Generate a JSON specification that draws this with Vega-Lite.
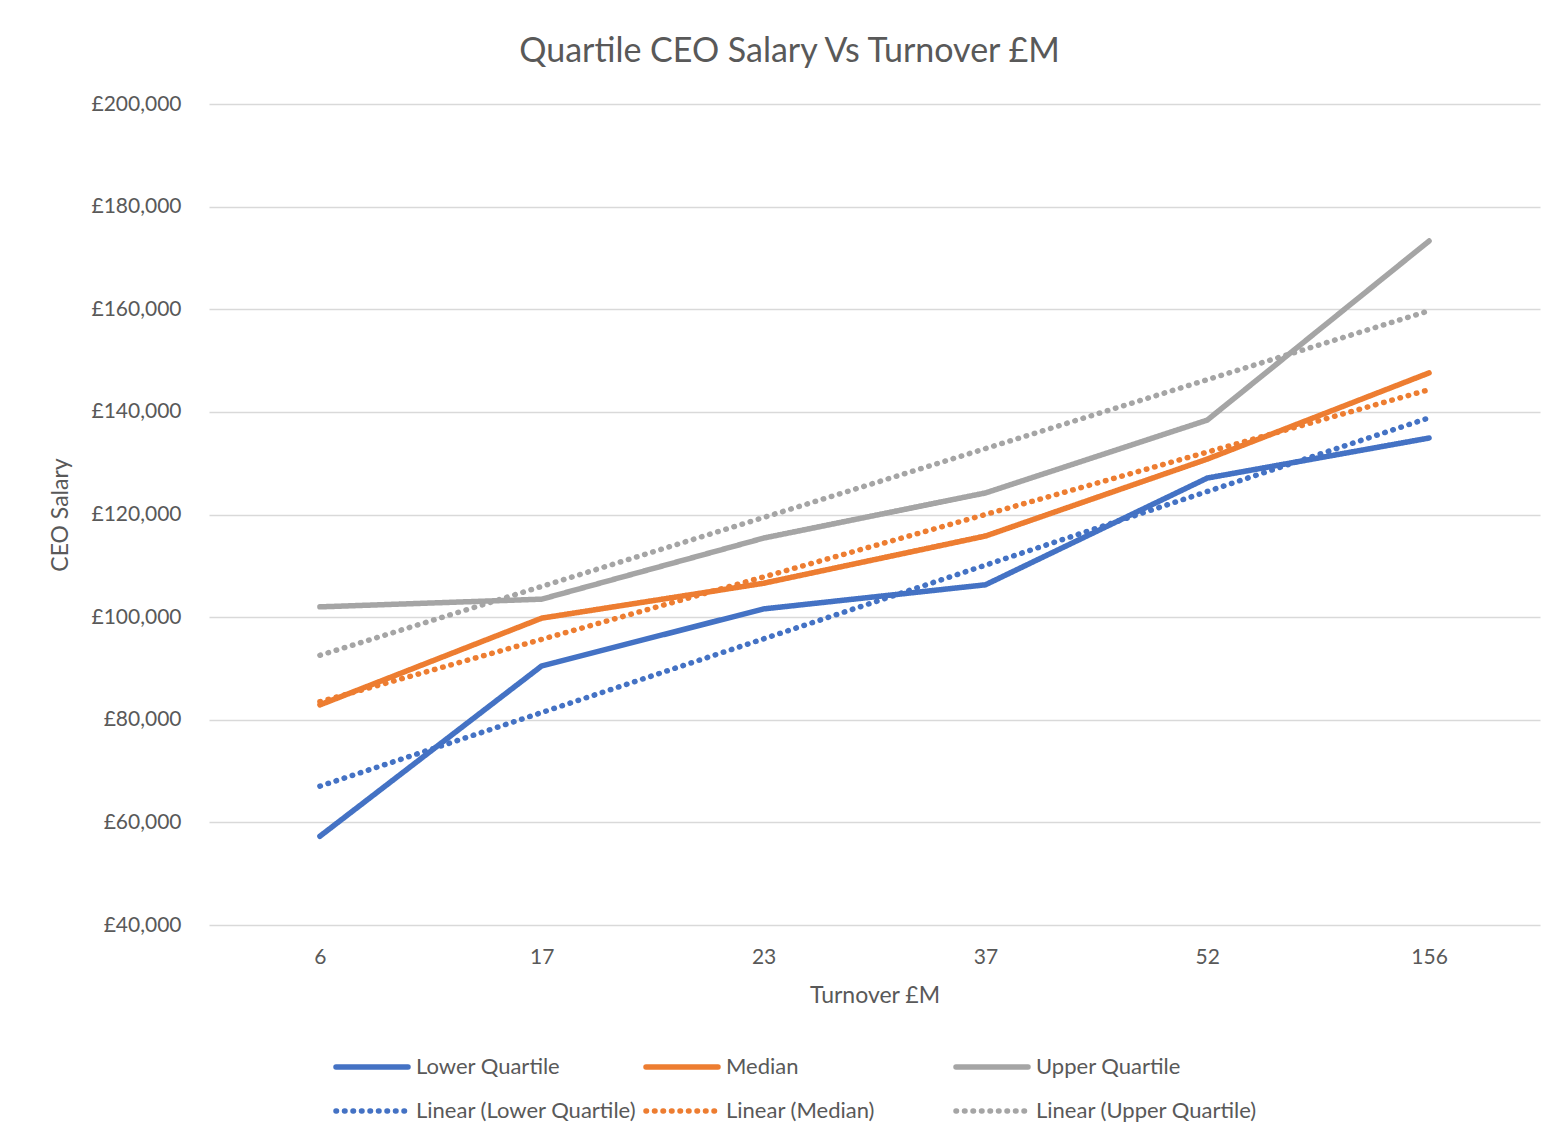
{
  "$schema": "https://vega.github.io/schema/vega-lite/v6.json",
  "width": 1331,
  "height": 821,
  "autosize": "none",
  "padding": {"left": 209, "top": 104, "right": 14, "bottom": 217},
  "background": "white",
  "title": {
    "text": "Quartile CEO Salary Vs Turnover £M",
    "font": "Lato",
    "fontSize": 34,
    "fontWeight": "normal",
    "color": "#595959",
    "anchor": "middle",
    "dx": -85,
    "offset": 24
  },
  "data": {
    "values": [
      {"idx": 1, "turnover": "6", "series": "Lower Quartile", "trend": "Linear (Lower Quartile)", "value": 57300},
      {"idx": 2, "turnover": "17", "series": "Lower Quartile", "trend": "Linear (Lower Quartile)", "value": 90500},
      {"idx": 3, "turnover": "23", "series": "Lower Quartile", "trend": "Linear (Lower Quartile)", "value": 101600},
      {"idx": 4, "turnover": "37", "series": "Lower Quartile", "trend": "Linear (Lower Quartile)", "value": 106300},
      {"idx": 5, "turnover": "52", "series": "Lower Quartile", "trend": "Linear (Lower Quartile)", "value": 127100},
      {"idx": 6, "turnover": "156", "series": "Lower Quartile", "trend": "Linear (Lower Quartile)", "value": 134900},
      {"idx": 1, "turnover": "6", "series": "Median", "trend": "Linear (Median)", "value": 82900},
      {"idx": 2, "turnover": "17", "series": "Median", "trend": "Linear (Median)", "value": 99800},
      {"idx": 3, "turnover": "23", "series": "Median", "trend": "Linear (Median)", "value": 106600},
      {"idx": 4, "turnover": "37", "series": "Median", "trend": "Linear (Median)", "value": 115800},
      {"idx": 5, "turnover": "52", "series": "Median", "trend": "Linear (Median)", "value": 130800},
      {"idx": 6, "turnover": "156", "series": "Median", "trend": "Linear (Median)", "value": 147600},
      {"idx": 1, "turnover": "6", "series": "Upper Quartile", "trend": "Linear (Upper Quartile)", "value": 102000},
      {"idx": 2, "turnover": "17", "series": "Upper Quartile", "trend": "Linear (Upper Quartile)", "value": 103500},
      {"idx": 3, "turnover": "23", "series": "Upper Quartile", "trend": "Linear (Upper Quartile)", "value": 115400},
      {"idx": 4, "turnover": "37", "series": "Upper Quartile", "trend": "Linear (Upper Quartile)", "value": 124200},
      {"idx": 5, "turnover": "52", "series": "Upper Quartile", "trend": "Linear (Upper Quartile)", "value": 138400},
      {"idx": 6, "turnover": "156", "series": "Upper Quartile", "trend": "Linear (Upper Quartile)", "value": 173300}
    ]
  },
  "encoding": {
    "x": {
      "field": "idx",
      "type": "quantitative",
      "scale": {"domain": [0.5, 6.5], "nice": false, "zero": false},
      "axis": {
        "title": "Turnover £M",
        "values": [1, 2, 3, 4, 5, 6],
        "labelExpr": "['6','17','23','37','52','156'][datum.value - 1]",
        "grid": false,
        "domain": false,
        "ticks": false,
        "labelPadding": 21,
        "titlePadding": 17,
        "labelFont": "Lato",
        "labelFontSize": 21,
        "labelColor": "#595959",
        "titleFont": "Lato",
        "titleFontSize": 23,
        "titleFontWeight": "normal",
        "titleColor": "#595959"
      }
    },
    "y": {
      "field": "value",
      "type": "quantitative",
      "scale": {"domain": [40000, 200000], "nice": false, "zero": false},
      "axis": {
        "title": "CEO Salary",
        "values": [40000, 60000, 80000, 100000, 120000, 140000, 160000, 180000, 200000],
        "format": ",.0f",
        "labelExpr": "'£' + datum.label",
        "grid": true,
        "gridColor": "#D9D9D9",
        "gridWidth": 1.3,
        "domain": false,
        "ticks": false,
        "labelPadding": 28,
        "titlePadding": 18,
        "labelFont": "Lato",
        "labelFontSize": 21,
        "labelColor": "#595959",
        "titleFont": "Lato",
        "titleFontSize": 23,
        "titleFontWeight": "normal",
        "titleColor": "#595959"
      }
    }
  },
  "layer": [
    {
      "mark": {"type": "line", "strokeCap": "round", "strokeJoin": "round"},
      "encoding": {
        "color": {
          "field": "series",
          "type": "nominal",
          "scale": {
            "domain": ["Lower Quartile", "Median", "Upper Quartile", "Linear (Lower Quartile)", "Linear (Median)", "Linear (Upper Quartile)"],
            "range": ["#4472C4", "#ED7D31", "#A5A5A5", "#4472C4", "#ED7D31", "#A5A5A5"]
          },
          "legend": {
            "title": null,
            "orient": "none",
            "legendX": 124,
            "legendY": 950,
            "direction": "horizontal",
            "columns": 3,
            "gridAlign": "all",
            "symbolType": "M-1,0H6.2",
            "symbolSize": 400,
            "symbolFillColor": "transparent",
            "labelFont": "Lato",
            "labelFontSize": 22,
            "labelColor": "#595959",
            "labelOffset": 57,
            "labelLimit": 400,
            "rowPadding": 20,
            "columnPadding": -3,
            "encode": {"symbols": {"update": {"strokeCap": {"value": "round"}, "fill": {"value": "transparent"}}}}
          }
        },
        "strokeDash": {
          "field": "series",
          "type": "nominal",
          "scale": {
            "domain": ["Lower Quartile", "Median", "Upper Quartile", "Linear (Lower Quartile)", "Linear (Median)", "Linear (Upper Quartile)"],
            "range": [[1, 0], [1, 0], [1, 0], [0.5, 8], [0.5, 8], [0.5, 8]]
          }
        },
        "strokeWidth": {
          "field": "series",
          "type": "nominal",
          "scale": {
            "domain": ["Lower Quartile", "Median", "Upper Quartile", "Linear (Lower Quartile)", "Linear (Median)", "Linear (Upper Quartile)"],
            "range": [5.5, 5.5, 5.5, 3, 3, 3]
          }
        }
      }
    },
    {
      "transform": [
        {"regression": "value", "on": "idx", "groupby": ["trend"], "method": "linear"}
      ],
      "mark": {"type": "line", "strokeCap": "round"},
      "encoding": {
        "color": {"field": "trend", "type": "nominal"},
        "strokeDash": {"field": "trend", "type": "nominal"},
        "strokeWidth": {"field": "trend", "type": "nominal"}
      }
    }
  ],
  "config": {
    "view": {"stroke": null},
    "font": "Lato"
  }
}
